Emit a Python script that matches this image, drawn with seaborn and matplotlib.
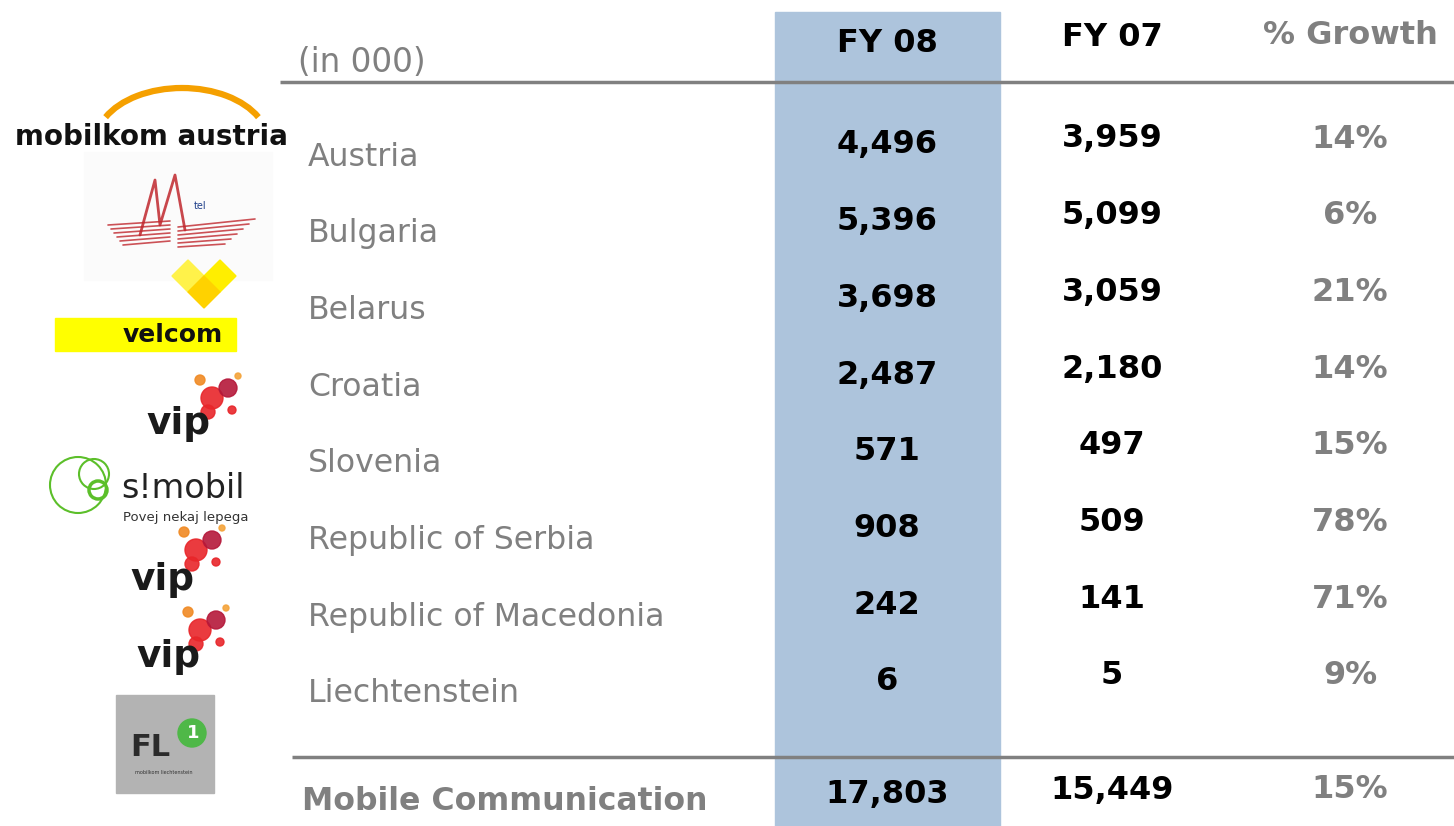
import matplotlib
matplotlib.use("Agg")
import matplotlib.pyplot as plt
import matplotlib.patches as mpatches
import seaborn as sns

sns.set_theme(style="white")
plt.rcParams['font.family'] = ['DejaVu Sans']

# ---- data ----
countries = ["Austria", "Bulgaria", "Belarus", "Croatia", "Slovenia",
             "Republic of Serbia", "Republic of Macedonia", "Liechtenstein"]
fy08 = [4496, 5396, 3698, 2487, 571, 908, 242, 6]
fy07 = [3959, 5099, 3059, 2180, 497, 509, 141, 5]
growth = [14, 6, 21, 14, 15, 78, 71, 9]
total_label = "Mobile Communication"
total_fy08 = 17803
total_fy07 = 15449
total_growth = 15
headers = ["FY 08", "FY 07", "% Growth"]
unit_label = "(in 000)"

W, H = 1454, 826
fig = plt.figure(figsize=(W / 100, H / 100), dpi=100)
ax = fig.add_axes([0, 0, 1, 1])
ax.set_xlim(0, W)
ax.set_ylim(H, 0)
ax.axis("off")

GRAY = "#808080"
BLUE = "#adc4dc"
FS = 22.7   # regular labels
FB = 23     # bold numbers / headers

# highlighted column
ax.add_patch(mpatches.Rectangle((775, 12), 225, H - 12, color=BLUE, zorder=0))

# header
x08, x07, xg = 887, 1112, 1350
ax.text(298, 62, unit_label, fontsize=23.5, color=GRAY, va="center", ha="left")
ax.text(x08, 43, headers[0], fontsize=FB, fontweight="bold", color="black", ha="center", va="center")
ax.text(x07, 37, headers[1], fontsize=FB, fontweight="bold", color="black", ha="center", va="center")
ax.text(xg, 36, headers[2], fontsize=FB, fontweight="bold", color=GRAY, ha="center", va="center")

# lines
ax.plot([280, W], [82, 82], color=GRAY, lw=2.5, solid_capstyle="butt")
ax.plot([292, W], [757, 757], color=GRAY, lw=2.5, solid_capstyle="butt")

# rows
row0, step = 157, 76.7
for i, c in enumerate(countries):
    y = row0 + i * step
    ax.text(308, y, c, fontsize=FS, color=GRAY, ha="left", va="center")
    ax.text(x08, y - 12, f"{fy08[i]:,}", fontsize=FB, fontweight="bold", color="black", ha="center", va="center")
    ax.text(x07, y - 18, f"{fy07[i]:,}", fontsize=FB, fontweight="bold", color="black", ha="center", va="center")
    ax.text(xg, y - 18, f"{growth[i]}%", fontsize=FB, fontweight="bold", color=GRAY, ha="center", va="center")

# total row
ax.text(302, 802, total_label, fontsize=FS, fontweight="bold", color=GRAY, ha="left", va="center")
ax.text(x08, 795, f"{total_fy08:,}", fontsize=FB, fontweight="bold", color="black", ha="center", va="center")
ax.text(x07, 790, f"{total_fy07:,}", fontsize=FB, fontweight="bold", color="black", ha="center", va="center")
ax.text(xg, 790, f"{total_growth}%", fontsize=FB, fontweight="bold", color=GRAY, ha="center", va="center")

# ---- logos (decorative approximations) ----
# mobilkom austria
ax.add_patch(mpatches.Arc((182, 142), 172, 108, theta1=198, theta2=342, color="#f5a000", lw=4.5))
ax.text(151, 137, "mobilkom austria", fontsize=20, fontweight="bold", color="#111111", ha="center", va="center")

# M-tel
ax.add_patch(mpatches.Rectangle((84, 152), 188, 128, color="#fbfbfb", zorder=0))
for k in range(6):
    yy = 225 + k * 4
    ax.plot([108 + k * 3, 170], [yy, yy - 4], color="#c0272d", lw=1.2, alpha=0.8)
    ax.plot([178, 255 - k * 6], [yy + 2, yy - 6 + k], color="#c0272d", lw=1.2, alpha=0.8)
ax.plot([140, 155, 160, 175, 185], [235, 180, 225, 175, 230], color="#c0272d", lw=2, alpha=0.85)
ax.text(200, 206, "tel", fontsize=7, color="#1f3f8a", ha="center", va="center")

# velcom
for (cx, cy, col) in [(188, 276, "#fff24a"), (220, 276, "#ffee00"), (204, 292, "#ffd200")]:
    ax.add_patch(mpatches.Polygon([(cx - 16, cy), (cx, cy - 16), (cx + 16, cy), (cx, cy + 16)],
                                  closed=True, color=col))
ax.add_patch(mpatches.Rectangle((55, 318), 181, 33, color="#ffff00"))
ax.text(173, 335, "velcom", fontsize=18, fontweight="bold", color="#111111", ha="center", va="center")


def vip(x, y, dx, dy):
    ax.text(x, y, "vip", fontsize=27, fontweight="bold", color="#1a1a1a", ha="center", va="center")
    for (ox, oy, r, col) in [(dx, dy, 11, "#e8262a"), (dx + 16, dy - 10, 9, "#b5183a"),
                             (dx - 12, dy - 18, 5, "#f08a24"), (dx + 20, dy + 12, 4, "#e8262a"),
                             (dx - 4, dy + 14, 7, "#e8262a"), (dx + 26, dy - 22, 3, "#f4a33a")]:
        ax.add_patch(mpatches.Circle((ox, oy), r, color=col, alpha=0.9))


vip(178, 424, 212, 398)
vip(162, 580, 196, 550)
vip(168, 657, 200, 630)

# s!mobil
for (cx, cy, r, lw) in [(78, 485, 28, 1.5), (94, 474, 15, 1.5), (98, 490, 9, 2.5)]:
    ax.add_patch(mpatches.Circle((cx, cy), r, fill=False, ec="#5cbf2a", lw=lw))
ax.text(121, 489, "s!mobil", fontsize=24, color="#222222", ha="left", va="center")
ax.text(123, 517, "Povej nekaj lepega", fontsize=9.5, color="#333333", ha="left", va="center")

# FL1
ax.add_patch(mpatches.Rectangle((116, 695), 98, 98, color="#b3b3b3"))
ax.text(150, 748, "FL", fontsize=22, fontweight="bold", color="#2b2b2b", ha="center", va="center")
ax.add_patch(mpatches.Circle((192, 733), 14, color="#4fb848"))
ax.text(193, 733, "1", fontsize=13, fontweight="bold", color="white", ha="center", va="center")
ax.text(164, 772, "mobilkom liechtenstein", fontsize=3.5, color="#333333", ha="center", va="center")

fig.savefig("out.png", dpi=100)
